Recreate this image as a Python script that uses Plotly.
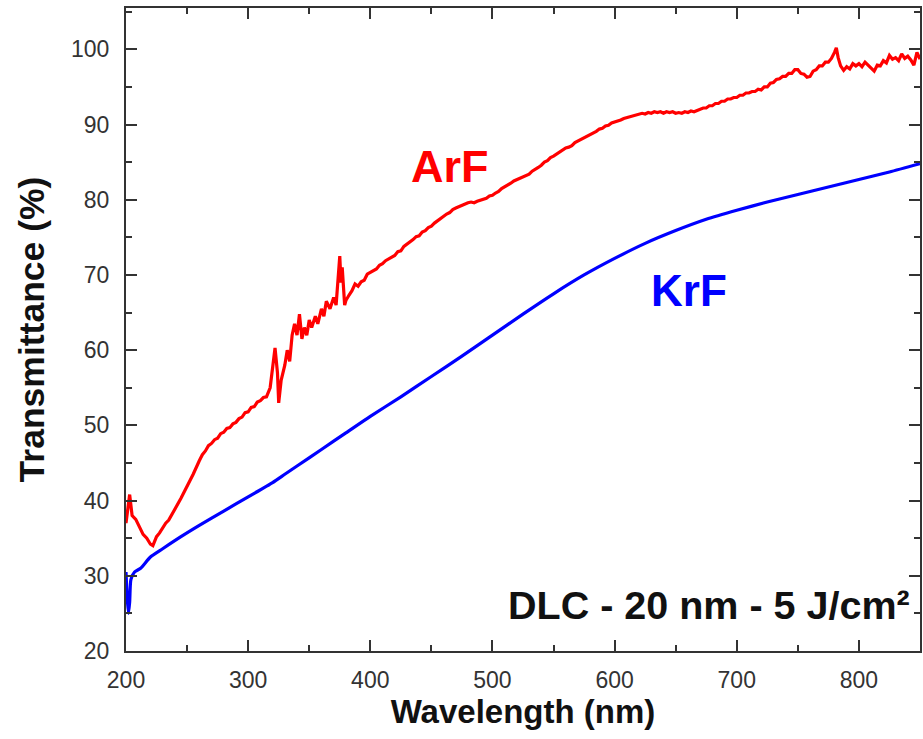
import plotly.graph_objects as go

# ---- data ----
arf_wavelength = [200, 201, 203, 205, 208, 211, 214, 217, 220, 222,
                  225, 227.5, 230, 232.5, 235, 237.5, 240, 242.5, 245, 247.5, 250, 252.5, 255, 257.5, 260, 262.5, 265, 267.5,
                  270, 272.5, 275, 277.5, 280, 282.5, 285, 287.5, 290, 292.5, 295, 297.5, 300, 302.5, 305, 307.5, 310, 312.5,
                  315, 318, 320, 322, 324, 325, 327, 330, 332, 334, 336, 338, 340, 342, 344, 346, 348, 350, 352, 355, 357,
                  360, 362, 364, 367, 370, 372, 374, 375, 376, 377, 379,
                  380, 382.5, 385, 387.5, 390, 392.5, 395, 397.5, 400, 402.5, 405, 407.5, 410, 412.5, 415, 417.5, 420, 422.5,
                  425, 427.5, 430, 432.5, 435, 437.5, 440, 442.5, 445, 447.5, 450, 452.5, 455, 457.5, 460, 462.5, 465, 467.5,
                  470, 472.5, 475, 477.5, 480, 482.5, 485, 487.5, 490, 492.5, 495, 497.5, 500, 502.5, 505, 507.5, 510, 512.5,
                  515, 517.5, 520, 522.5, 525, 527.5, 530, 532.5, 535, 537.5, 540, 542.5, 545, 547.5, 550, 552.5, 555, 557.5,
                  560, 562.5, 565, 567.5, 570, 572.5, 575, 577.5, 580, 582.5, 585, 587.5, 590, 592.5, 595, 597.5, 600, 602.5,
                  605, 607.5, 610, 612.5, 615, 617.5, 620, 622.5, 625, 627.5, 630, 632.5, 635, 637.5, 640, 642.5, 645, 647.5,
                  650, 652.5, 655, 657.5, 660, 662.5, 665, 667.5, 670, 672.5, 675, 677.5, 680, 682.5, 685, 687.5, 690, 692.5,
                  695, 697.5, 700, 702.5, 705, 707.5, 710, 712.5, 715, 717.5, 720, 722.5, 725, 727.5, 730, 732.5, 735, 737.5,
                  740, 742.5, 745, 747.5, 750, 752.5, 755, 757.5, 760, 762.5, 765, 767.5, 770, 772.5, 775, 777.5, 780, 781.5,
                  783, 785, 787.5, 790, 792.5, 795, 797.5, 800, 802.5, 805, 807.5, 810, 812.5, 815, 817.5, 820, 822.5, 825,
                  827.5, 830, 832.5, 835, 837.5, 840, 842.5, 845, 847.5, 850]
arf_transmittance = [37.0, 38.5, 40.8, 38.0, 37.5, 36.5, 35.5, 35.0, 34.2, 34.0,
                     35.2, 35.7, 36.3, 37.0, 37.4, 38.1, 38.7, 39.6, 40.3, 41.1, 41.8, 42.7, 43.5, 44.5, 45.3, 46.1, 46.6, 47.3,
                     47.6, 48.1, 48.3, 48.9, 49.1, 49.6, 49.7, 50.2, 50.4, 50.9, 51.1, 51.7, 51.8, 52.4, 52.5, 53.1, 53.3, 53.7,
                     53.8, 55.0, 57.5, 60.3, 57.0, 53.0, 56.0, 58.0, 60.0, 58.5, 62.0, 63.5, 62.0, 64.8, 61.5, 63.0, 62.0, 64.0, 63.0, 64.5, 63.5,
                     65.5, 64.5, 66.5, 65.5, 67.0, 66.0, 70.0, 72.5, 69.0, 71.0, 66.0,
                     66.6, 67.3, 67.9, 68.8, 68.5, 69.1, 69.3, 70.1, 70.3, 70.6, 70.8, 71.3, 71.5, 71.9, 72.1, 72.4, 72.6, 73.1,
                     73.2, 73.8, 74.1, 74.3, 74.7, 75.1, 75.2, 75.7, 75.9, 76.3, 76.5, 76.9, 77.2, 77.6, 77.8, 78.1, 78.3, 78.7,
                     78.9, 79.1, 79.2, 79.5, 79.6, 79.7, 79.6, 79.8, 79.9, 80.1, 80.2, 80.5, 80.6, 80.9, 81.1, 81.5, 81.7, 82.0,
                     82.2, 82.5, 82.7, 82.9, 83.1, 83.2, 83.4, 83.8, 84.0, 84.3, 84.6, 85.0, 85.2, 85.6, 85.8, 86.1, 86.4, 86.7,
                     86.9, 87.0, 87.2, 87.6, 87.8, 88.1, 88.2, 88.4, 88.6, 88.9, 89.1, 89.4, 89.5, 89.8, 89.9, 90.2, 90.3, 90.5,
                     90.6, 90.8, 90.9, 91.1, 91.1, 91.3, 91.3, 91.5, 91.4, 91.6, 91.5, 91.7, 91.6, 91.7, 91.5, 91.7, 91.6, 91.7,
                     91.5, 91.6, 91.5, 91.7, 91.6, 91.8, 91.7, 91.9, 92.0, 92.2, 92.2, 92.5, 92.5, 92.8, 92.8, 93.1, 93.1, 93.4,
                     93.4, 93.6, 93.6, 93.9, 93.9, 94.2, 94.2, 94.4, 94.4, 94.7, 94.6, 95.0, 95.0, 95.5, 95.6, 96.0, 96.1, 96.4,
                     96.4, 96.8, 96.8, 97.3, 97.3, 96.8, 96.7, 96.3, 96.4, 97.1, 97.3, 97.8, 97.8, 98.3, 98.3, 98.8, 99.6, 100.2,
                     98.9, 97.8, 97.2, 97.7, 97.4, 98.1, 97.8, 98.1, 97.7, 98.3, 97.9, 97.5, 97.1, 97.9, 97.8, 98.5, 98.2, 99.2,
                     98.7, 98.9, 98.5, 99.4, 98.8, 99.1, 98.6, 97.9, 99.6, 98.7]

krf_wavelength = [200, 201, 202, 203, 204, 207, 212, 220, 230, 245, 260, 280, 300, 320, 330, 340, 360, 380, 400, 425,
                  450, 475, 500, 525, 550, 575, 600, 625, 650, 675, 700, 725, 750, 775, 800, 825, 850]
krf_transmittance = [30.5, 27.0, 25.0, 26.5, 29.5, 30.5, 31.0, 32.5, 33.6, 35.2, 36.7, 38.6, 40.5, 42.4, 43.5, 44.6, 46.8, 49.0, 51.2, 53.8,
                     56.5, 59.2, 62.0, 64.8, 67.5, 70.0, 72.2, 74.2, 75.9, 77.4, 78.6, 79.7, 80.7, 81.7, 82.7, 83.7, 84.8]

x_range = [200, 850]
y_range = [20, 105.5]

FONT = "Liberation Sans, Arial, sans-serif"

fig = go.Figure()
fig.add_trace(go.Scatter(x=arf_wavelength, y=arf_transmittance, mode="lines",
                         line=dict(color="#ff0000", width=3.2), name="ArF"))
fig.add_trace(go.Scatter(x=krf_wavelength, y=krf_transmittance, mode="lines",
                         line=dict(color="#0000ff", width=3.2, shape="spline", smoothing=0.6), name="KrF"))

axis_common = dict(
    showline=True, linecolor="#333333", linewidth=2, mirror="ticks",
    ticks="inside", ticklen=11, tickwidth=2, tickcolor="#333333",
    showgrid=False, zeroline=False, automargin=False,
    tickfont=dict(family=FONT, size=23, color="#333333"),
)

fig.update_xaxes(range=x_range, dtick=100, tick0=200, ticklabelstandoff=7,
                 minor=dict(ticks="inside", ticklen=6, tickwidth=2, tickcolor="#333333", dtick=50, showgrid=False),
                 title=dict(text="<b>Wavelength (nm)</b>", font=dict(family=FONT, size=33, color="#111111"), standoff=6),
                 **axis_common)
fig.update_yaxes(range=y_range, dtick=10, tick0=20, ticklabelstandoff=10,
                 minor=dict(ticks="inside", ticklen=6, tickwidth=2, tickcolor="#333333", dtick=5, showgrid=False),
                 title=dict(text="<b>Transmittance (%)</b>", font=dict(family=FONT, size=35.5, color="#111111"), standoff=16),
                 **axis_common)

fig.add_annotation(x=465, y=84.4, text="<b>ArF</b>", showarrow=False,
                   font=dict(family=FONT, size=45, color="#ff0000"))
fig.add_annotation(x=661, y=68, text="<b>KrF</b>", showarrow=False,
                   font=dict(family=FONT, size=44, color="#0000ff"))
fig.add_annotation(xref="paper", x=1, xanchor="right", xshift=-8, y=26.1, yanchor="middle",
                   text="<b>DLC - 20 nm - 5 J/cm²</b>", showarrow=False,
                   font=dict(family=FONT, size=39.5, color="#111111"))

fig.update_layout(
    width=923, height=739,
    margin=dict(l=126, r=3, t=8, b=88),
    plot_bgcolor="white", paper_bgcolor="white",
    showlegend=False,
)

# remove the default page margin so the 923x739 figure fills the window exactly
fig.write_html("out.html", config={"displayModeBar": False},
               post_script="document.body.style.margin='0';document.body.style.overflow='hidden';")
